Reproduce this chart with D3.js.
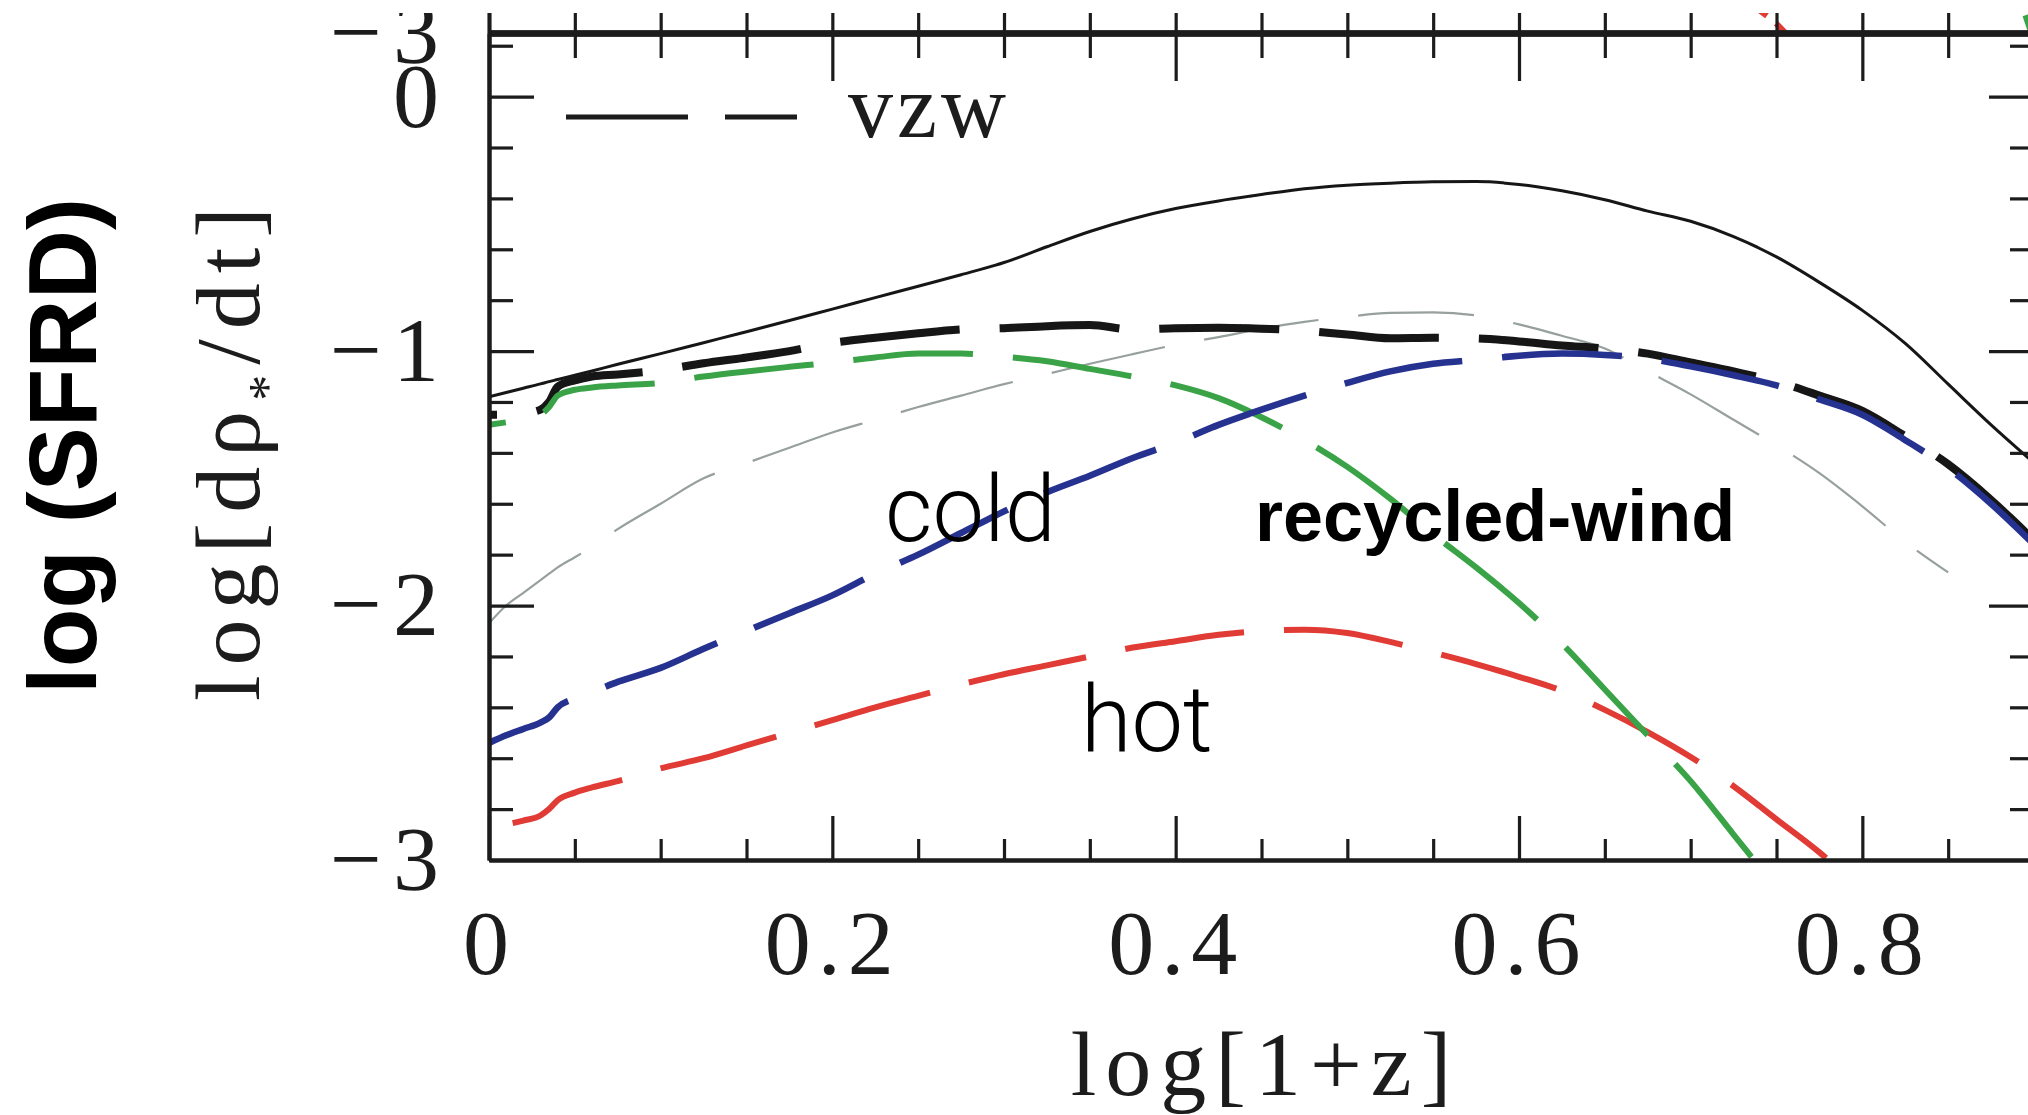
<!DOCTYPE html>
<html>
<head>
<meta charset="utf-8">
<script src="https://cdn.jsdelivr.net/npm/d3@7"></script>
<style>
  html, body { margin: 0; padding: 0; background: #fff; }
  svg { display: block; }
</style>
</head>
<body>
<svg id="chart" width="2028" height="1115"></svg>
<script>
// log(1+z) sampling grid shared by all curves
const zGrid = [0, 0.01, 0.02, 0.03, 0.035, 0.04, 0.05, 0.06, 0.075,
  0.1, 0.125, 0.15, 0.175, 0.2, 0.225, 0.25, 0.275, 0.3, 0.325, 0.35, 0.375,
  0.4, 0.425, 0.45, 0.475, 0.5, 0.525, 0.55, 0.575, 0.6, 0.625, 0.65, 0.675,
  0.7, 0.725, 0.75, 0.775, 0.8, 0.825, 0.85, 0.875, 0.9];

// log SFRD, thin solid black
const sfrSolid = [-1.18, -1.163, -1.146, -1.129, -1.12, -1.112, -1.095, -1.078, -1.052,
  -1.01, -0.967, -0.924, -0.88, -0.835, -0.79, -0.745, -0.70, -0.652, -0.59, -0.53, -0.48,
  -0.44, -0.41, -0.385, -0.362, -0.348, -0.34, -0.335, -0.334, -0.345, -0.37, -0.405, -0.45,
  -0.49, -0.55, -0.63, -0.73, -0.84, -0.97, -1.13, -1.29, -1.44];

// vzw total, thick dashed black
const vzwTotal = [-1.25, -1.25, -1.245, -1.23, -1.2, -1.14, -1.115, -1.10, -1.092,
  -1.075, -1.048, -1.025, -1.0, -0.968, -0.948, -0.93, -0.915, -0.91, -0.902, -0.898, -0.915,
  -0.91, -0.908, -0.912, -0.92, -0.935, -0.95, -0.948, -0.95, -0.962, -0.978, -0.99, -1.01,
  -1.045, -1.08, -1.12, -1.175, -1.235, -1.335, -1.445, -1.585, -1.745];

// cold mode (blue)
const coldMode = [-2.54, -2.51, -2.485, -2.46, -2.44, -2.40, -2.365, -2.34, -2.30,
  -2.245, -2.17, -2.10, -2.03, -1.96, -1.875, -1.80, -1.715, -1.63, -1.555, -1.49, -1.42,
  -1.36, -1.29, -1.23, -1.175, -1.125, -1.08, -1.05, -1.035, -1.018, -1.01, -1.015, -1.03,
  -1.06, -1.095, -1.135, -1.19, -1.25, -1.35, -1.46, -1.6, -1.76];

// hot mode (red)
const hotMode = [-2.87, -2.86, -2.845, -2.825, -2.80, -2.765, -2.735, -2.715, -2.69,
  -2.64, -2.60, -2.55, -2.50, -2.45, -2.40, -2.355, -2.31, -2.27, -2.235, -2.20, -2.165,
  -2.14, -2.115, -2.10, -2.095, -2.108, -2.143, -2.185, -2.23, -2.28, -2.335, -2.41, -2.497,
  -2.595, -2.71, -2.84, -2.97, -3.12, null, null, null, null];

// recycled-wind mode (green)
const windMode = [-1.29, -1.28, -1.27, -1.25, -1.22, -1.175, -1.152, -1.143, -1.135,
  -1.125, -1.10, -1.08, -1.062, -1.045, -1.025, -1.01, -1.01, -1.022, -1.04, -1.07, -1.10,
  -1.135, -1.185, -1.26, -1.35, -1.455, -1.58, -1.72, -1.85, -1.99, -2.15, -2.33, -2.51,
  -2.69, -2.90, -3.11, null, null, null, null, null, null];

// comparison run, thin grey dashes
const greyRun = [-2.07, -2.0, -1.95, -1.9, -1.875, -1.85, -1.81, -1.77, -1.70,
  -1.60, -1.50, -1.44, -1.38, -1.32, -1.27, -1.22, -1.175, -1.13, -1.09, -1.05, -1.012,
  -0.975, -0.945, -0.912, -0.885, -0.865, -0.85, -0.848, -0.86, -0.895, -0.94, -0.99, -1.08,
  -1.17, -1.27, -1.37, -1.48, -1.61, -1.75, -1.87, null, null];

// bits of the panel above that reach down to its lower axis
const upperHotZ = [0.736, 0.748, 0.758];
const upperHotVals = [-2.89, -2.95, -3.02];
const upperWindZ = [0.895, 0.8985];
const upperWindVals = [-2.93, -3.0];

// axis ticks
const xMajor = [0, 0.2, 0.4, 0.6, 0.8];
const xMinor = d3.range(0, 18).filter(i => i % 4 !== 0).map(i => i * 0.05);
const yMajor = [-3, -2, -1, 0];
const yMinor = d3.range(-15, 2).filter(i => i % 5 !== 0).map(i => i * 0.2);

const W = 2028, H = 1115;
const plot = { left: 489, right: 2034, top: 33, bottom: 860 };
const SERIF = "'Liberation Serif', 'Times New Roman', serif";
const SANS = "'Liberation Sans', Arial, Helvetica, sans-serif";
const LIGHT = "Roboto, 'Open Sans', 'Helvetica Neue', sans-serif";
const INK = "#1b1b1b";

const x = d3.scaleLinear().domain([0, 0.9]).range([plot.left, plot.right]);
const y = d3.scaleLinear().domain([-3, 0.25]).range([plot.bottom, plot.top]);
const yUpper = d3.scaleLinear().domain([-3, 0.25])
  .range([plot.top, plot.top - (plot.bottom - plot.top)]);

const svg = d3.select("#chart");
const defs = svg.append("defs");
defs.append("clipPath").attr("id", "frame")
  .append("rect").attr("x", 0).attr("y", 13).attr("width", W).attr("height", H - 13);
defs.append("clipPath").attr("id", "plotArea")
  .append("rect").attr("x", plot.left).attr("y", plot.top)
  .attr("width", plot.right - plot.left).attr("height", plot.bottom - plot.top);
defs.append("clipPath").attr("id", "upperArea")
  .append("rect").attr("x", plot.left).attr("y", 13)
  .attr("width", plot.right - plot.left).attr("height", plot.top - 13);
defs.append("filter").attr("id", "soft")
  .attr("x", "-2%").attr("y", "-2%").attr("width", "104%").attr("height", "104%")
  .append("feGaussianBlur").attr("stdDeviation", 0.6);

const fig = svg.append("g").attr("clip-path", "url(#frame)");
const soft = fig.append("g").attr("filter", "url(#soft)");

function styleAxis(g, domainWidth) {
  g.select(".domain").attr("stroke", INK).attr("stroke-width", domainWidth);
  g.selectAll(".tick line").attr("stroke", INK).attr("stroke-width", 3.2);
  g.selectAll(".tick text")
    .attr("font-family", SERIF).attr("font-size", 92).attr("fill", INK);
}
const fmtY = d => d < 0 ? "\u2212" + (-d) : String(d);
const fmtX = d => d === 0 ? "0" : d3.format(".1f")(d);

// ---- curves ----
const line = d3.line()
  .defined(d => d[1] != null)
  .x(d => x(d[0])).y(d => y(d[1]))
  .curve(d3.curveMonotoneX);

const curves = soft.append("g").attr("clip-path", "url(#plotArea)");
const series = [
  { vals: greyRun,  color: "#97a09f", width: 2.2, dash: "116,40", offset: 0 },
  { vals: sfrSolid, color: "#161616", width: 3,   dash: null,     offset: 0 },
  { vals: hotMode,  color: "#e03a35", width: 6,   dash: "120,40", offset: 136 },
  { vals: vzwTotal, color: "#141414", width: 8,   dash: "120,40", offset: 112 },
  { vals: windMode, color: "#3aa346", width: 6,   dash: "120,40", offset: 103 },
  { vals: coldMode, color: "#27308f", width: 6.5, dash: "120,40", offset: 29 }
];
series.forEach(s => {
  curves.append("path")
    .attr("d", line(zGrid.map((z, i) => [z, s.vals[i]])))
    .attr("fill", "none")
    .attr("stroke", s.color)
    .attr("stroke-width", s.width)
    .attr("stroke-dasharray", s.dash)
    .attr("stroke-dashoffset", s.offset);
});

const upperLine = d3.line().x(d => x(d[0])).y(d => yUpper(d[1]));
const upper = soft.append("g").attr("clip-path", "url(#upperArea)");
upper.append("path")
  .attr("d", upperLine(upperHotZ.map((z, i) => [z, upperHotVals[i]])))
  .attr("fill", "none").attr("stroke", "#e03a35").attr("stroke-width", 6)
  .attr("stroke-dasharray", "18,12,40");
upper.append("path")
  .attr("d", upperLine(upperWindZ.map((z, i) => [z, upperWindVals[i]])))
  .attr("fill", "none").attr("stroke", "#3aa346").attr("stroke-width", 6);

// ---- axes ----
// bottom
soft.append("g").attr("transform", `translate(0,${plot.bottom})`)
  .call(d3.axisBottom(x).tickValues(xMinor).tickSize(-21).tickSizeOuter(0).tickFormat(""))
  .call(g => styleAxis(g, 4));
soft.append("g").attr("transform", `translate(0,${plot.bottom})`)
  .call(d3.axisBottom(x).tickValues(xMajor).tickSize(-44).tickSizeOuter(0)
    .tickPadding(49).tickFormat(fmtX))
  .call(g => styleAxis(g, 4))
  .call(g => g.selectAll(".tick text").attr("letter-spacing", 7));

// top (this panel) and the lower axis of the panel above
soft.append("g").attr("transform", `translate(0,${plot.top})`)
  .call(d3.axisTop(x).tickValues(xMinor).tickSize(-25).tickSizeOuter(0).tickFormat(""))
  .call(g => styleAxis(g, 6));
soft.append("g").attr("transform", `translate(0,${plot.top})`)
  .call(d3.axisTop(x).tickValues(xMajor).tickSize(-48).tickSizeOuter(0).tickFormat(""))
  .call(g => styleAxis(g, 6));
soft.append("g").attr("transform", `translate(0,${plot.top})`)
  .call(d3.axisBottom(x).tickValues(xMinor.concat(xMajor)).tickSize(-45)
    .tickSizeOuter(0).tickFormat(""))
  .call(g => styleAxis(g, 6));

// left
soft.append("g").attr("transform", `translate(${plot.left},0)`)
  .call(d3.axisLeft(y).tickValues(yMinor).tickSize(-24).tickSizeOuter(0).tickFormat(""))
  .call(g => styleAxis(g, 4));
soft.append("g").attr("transform", `translate(${plot.left},0)`)
  .call(d3.axisLeft(y).tickValues(yMajor).tickSize(-45).tickSizeOuter(0)
    .tickPadding(39).tickFormat(fmtY))
  .call(g => styleAxis(g, 4))
  .call(g => g.selectAll(".tick text").attr("letter-spacing", 11));
soft.append("g").attr("transform", `translate(${plot.left},0)`)
  .call(d3.axisLeft(yUpper).tickValues([-3]).tickSize(0).tickSizeOuter(0)
    .tickPadding(39).tickFormat(fmtY))
  .call(g => styleAxis(g, 4))
  .call(g => g.selectAll(".tick text").attr("letter-spacing", 11));

// right
soft.append("g").attr("transform", `translate(${plot.right},0)`)
  .call(d3.axisRight(y).tickValues(yMinor).tickSize(-24).tickSizeOuter(0).tickFormat(""))
  .call(g => styleAxis(g, 4));
soft.append("g").attr("transform", `translate(${plot.right},0)`)
  .call(d3.axisRight(y).tickValues(yMajor).tickSize(-45).tickSizeOuter(0).tickFormat(""))
  .call(g => styleAxis(g, 4));

// ---- legend ----
soft.append("line")
  .attr("x1", 566).attr("x2", 797).attr("y1", 117).attr("y2", 117)
  .attr("stroke", INK).attr("stroke-width", 5).attr("stroke-dasharray", "122,37");
soft.append("text")
  .attr("x", 848).attr("y", 137)
  .attr("font-family", SERIF).attr("font-size", 90).attr("letter-spacing", 4)
  .attr("fill", INK).text("vzw");

// ---- axis titles ----
soft.append("text")
  .attr("x", (plot.left + plot.right) / 2 + 4).attr("y", 1095)
  .attr("text-anchor", "middle")
  .attr("font-family", SERIF).attr("font-size", 92).attr("letter-spacing", 9)
  .attr("fill", INK).text("log[1+z]");

const yTitle = soft.append("text")
  .attr("transform", "translate(259,449) rotate(-90)")
  .attr("text-anchor", "middle")
  .attr("font-family", SERIF).attr("font-size", 92).attr("letter-spacing", 10)
  .attr("fill", INK);
yTitle.append("tspan").text("log[dρ");
yTitle.append("tspan").attr("font-size", 52).attr("dy", 26).text("*");
yTitle.append("tspan").attr("dy", -26).text("/dt]");

// ---- annotations ----
svg.append("text")
  .attr("transform", "translate(96,446) rotate(-90)")
  .attr("text-anchor", "middle")
  .attr("font-family", SANS).attr("font-weight", 700).attr("font-size", 96)
  .attr("fill", "#000").text("log (SFRD)");

svg.append("text")
  .attr("x", 885).attr("y", 541)
  .attr("font-family", LIGHT).attr("font-weight", 300).attr("font-size", 92)
  .attr("fill", "#000").text("cold");
svg.append("text")
  .attr("x", 1081).attr("y", 751)
  .attr("font-family", LIGHT).attr("font-weight", 300).attr("font-size", 92)
  .attr("fill", "#000").text("hot");
svg.append("text")
  .attr("x", 1255).attr("y", 541)
  .attr("font-family", SANS).attr("font-weight", 700).attr("font-size", 72)
  .attr("fill", "#000").text("recycled-wind");
</script>
</body>
</html>
